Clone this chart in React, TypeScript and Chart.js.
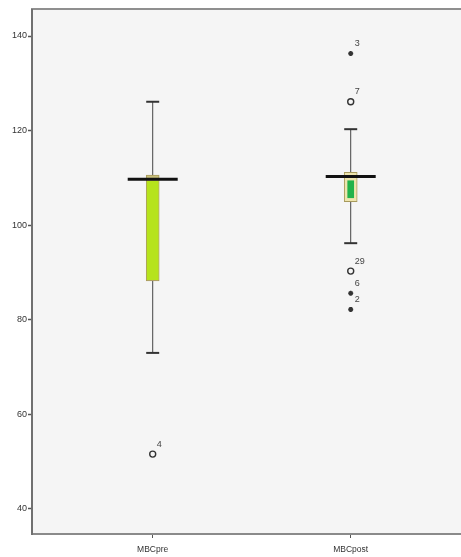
import React, { useEffect, useRef } from "react";
import { Chart, registerables } from "chart.js";

Chart.register(...registerables);

// ---- data ----
const categories = ["MBCpre", "MBCpost"];
const yTicks = [40, 60, 80, 100, 120, 140];

const whiskerLow = [73, 96.2];
const boxLow = [88.2, 105.0];
const medians = [109.7, 110.3];
const boxHigh = [110.6, 111.2];
const whiskerHigh = [126.1, 120.3];
const innerLow = [88.5, 105.8];
const innerHigh = [109.3, 109.4];

const circleCat = [1, 2, 2];
const circleVal = [51.6, 126.1, 90.3];
const circleLabels = ["4", "7", "29"];

const starCat = [2, 2, 2];
const starVal = [136.3, 85.6, 82.2];
const starLabels = ["3", "6", "2"];

const FONT = "'Liberation Sans Narrow', 'Liberation Sans', Arial, sans-serif";

const bgPlugin = {
  id: "bgPlugin",
  beforeDraw(chart: any) {
    const { ctx, chartArea: a } = chart;
    ctx.save();
    ctx.fillStyle = "#f5f5f5";
    ctx.fillRect(a.left, a.top, a.right - a.left, a.bottom - a.top);
    ctx.strokeStyle = "#8f8f8f";
    ctx.lineWidth = 2;
    ctx.beginPath();
    ctx.moveTo(a.left - 1, a.top - 1);
    ctx.lineTo(a.right, a.top - 1);
    ctx.stroke();
    ctx.restore();
  },
};

const labelPlugin = {
  id: "labelPlugin",
  afterDatasetsDraw(chart: any) {
    const { ctx } = chart;
    ctx.save();
    ctx.fillStyle = "#444";
    ctx.font = "9px " + FONT;
    ctx.textAlign = "left";
    ctx.textBaseline = "middle";
    chart.data.datasets.forEach((ds: any, i: number) => {
      if (!ds.outlierLabels) return;
      const meta = chart.getDatasetMeta(i);
      meta.data.forEach((el: any, j: number) => {
        ctx.fillText(ds.outlierLabels[j], el.x + 4, el.y - 10);
      });
    });
    ctx.restore();
  },
};

export default function App() {
  const ref = useRef<HTMLCanvasElement>(null);

  useEffect(() => {
    if (!ref.current) return;
    const xs = categories.map((_, i) => i + 1);

    const datasets: any[] = [];

    // outliers (top-most)
    datasets.push({
      type: "scatter",
      data: circleCat.map((c, i) => ({ x: c, y: circleVal[i] })),
      pointStyle: "circle",
      pointRadius: 3,
      pointBorderWidth: 1.4,
      borderColor: "#333",
      backgroundColor: "rgba(0,0,0,0)",
      outlierLabels: circleLabels,
    });
    datasets.push({
      type: "scatter",
      data: starCat.map((c, i) => ({ x: c, y: starVal[i] })),
      pointStyle: "star",
      pointRadius: 2.5,
      pointBorderWidth: 1.5,
      borderColor: "#333",
      backgroundColor: "#333",
      outlierLabels: starLabels,
    });
    // medians
    datasets.push({
      type: "scatter",
      data: xs.map((x, i) => ({ x, y: medians[i] })),
      pointStyle: "line",
      pointRadius: 25,
      pointBorderWidth: 3,
      borderColor: "#111",
    });
    // inner boxes
    datasets.push({
      type: "bar",
      data: [{ x: xs[0], y: [innerLow[0], innerHigh[0]] }],
      backgroundColor: "#b6e31c",
      borderWidth: 0,
      barThickness: 11,
      grouped: false,
    });
    datasets.push({
      type: "bar",
      data: [{ x: xs[1], y: [innerLow[1], innerHigh[1]] }],
      backgroundColor: "#22b34a",
      borderWidth: 0,
      barThickness: 6,
      grouped: false,
    });
    // outer boxes
    datasets.push({
      type: "bar",
      data: xs.map((x, i) => ({ x, y: [boxLow[i], boxHigh[i]] })),
      backgroundColor: ["#c9c07c", "#eee5ae"],
      borderColor: "#a79a5c",
      borderWidth: 1,
      borderSkipped: false,
      barThickness: 13,
      grouped: false,
    });
    // whisker caps
    datasets.push({
      type: "scatter",
      data: xs.flatMap((x, i) => [
        { x, y: whiskerLow[i] },
        { x, y: whiskerHigh[i] },
      ]),
      pointStyle: "line",
      pointRadius: 6.5,
      pointBorderWidth: 2,
      borderColor: "#333",
    });
    // whiskers
    xs.forEach((x, i) => {
      datasets.push({
        type: "line",
        data: [
          { x, y: whiskerLow[i] },
          { x, y: whiskerHigh[i] },
        ],
        borderColor: "#444",
        borderWidth: 1,
        pointRadius: 0,
        fill: false,
      });
    });

    const chart = new Chart(ref.current, {
      type: "bar",
      data: { datasets },
      plugins: [bgPlugin, labelPlugin],
      options: {
        animation: false,
        responsive: false,
        events: [],
        layout: { autoPadding: false, padding: { top: 10, right: 0, bottom: 0, left: 0 } },
        plugins: { legend: { display: false }, tooltip: { enabled: false } },
        scales: {
          x: {
            type: "linear",
            min: 0.3904,
            max: 2.557,
            offset: false,
            afterFit: (s: any) => {
              s.height = 23;
            },
            afterBuildTicks: (s: any) => {
              s.ticks = xs.map((v) => ({ value: v }));
            },
            border: { display: true, color: "#8a8a8a", width: 2 },
            grid: {
              offset: false,
              drawOnChartArea: false,
              drawTicks: true,
              tickLength: 4,
              color: "#555",
              tickWidth: 1,
            },
            ticks: {
              autoSkip: false,
              maxRotation: 0,
              padding: 7,
              color: "#333",
              font: { family: FONT, size: 8.5 },
              callback: (v: any) => categories[Math.round(Number(v)) - 1] ?? "",
            },
          },
          y: {
            type: "linear",
            min: 34.71,
            max: 145.5,
            afterFit: (s: any) => {
              s.width = 32;
            },
            afterBuildTicks: (s: any) => {
              s.ticks = yTicks.map((v) => ({ value: v }));
            },
            border: { display: true, color: "#707070", width: 2 },
            grid: {
              drawOnChartArea: false,
              drawTicks: true,
              tickLength: 4,
              color: "#555",
              tickWidth: 1.5,
            },
            ticks: {
              padding: 1,
              color: "#333",
              font: { family: FONT, size: 9 },
            },
          },
        },
      } as any,
    });
    return () => chart.destroy();
  }, []);

  return (
    <div style={{ position: "absolute", left: 0, top: 0, width: 461, height: 557, background: "#fff" }}>
      <canvas ref={ref} width={461} height={557} style={{ display: "block" }} />
    </div>
  );
}
